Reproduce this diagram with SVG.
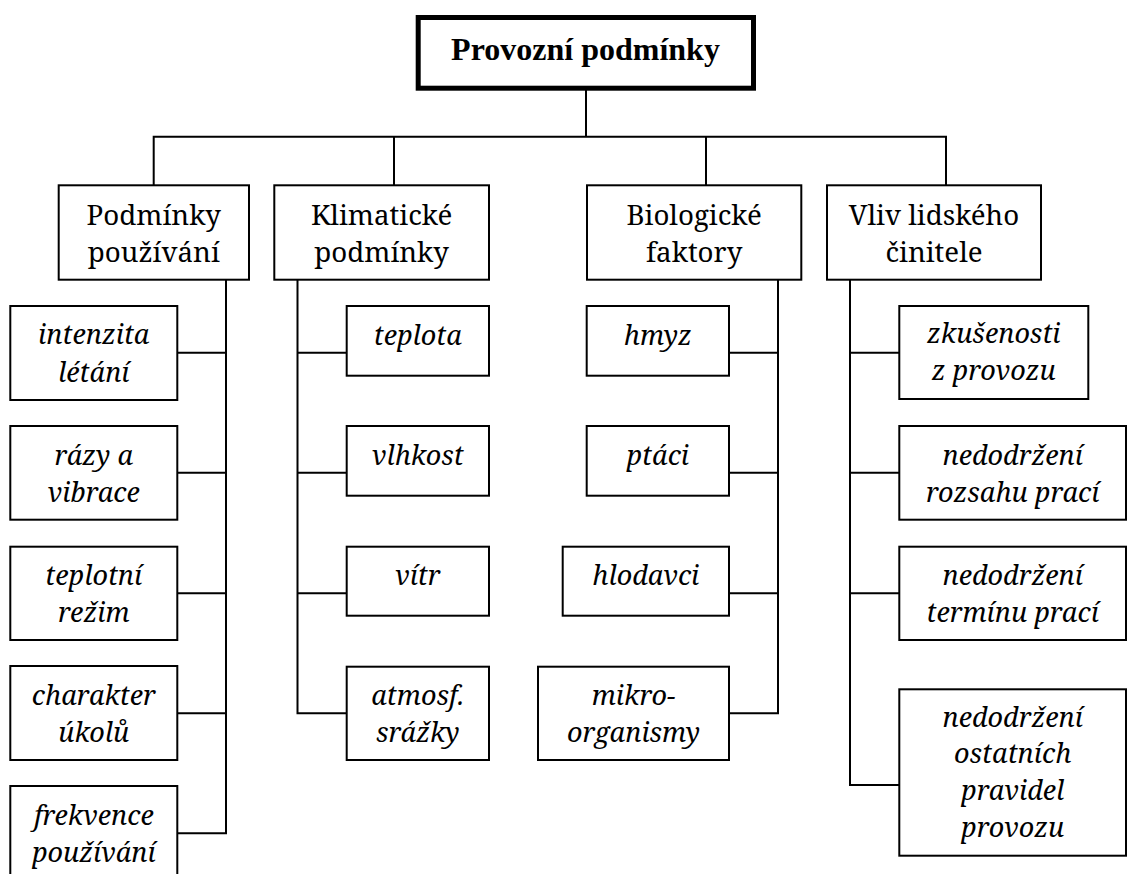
<svg xmlns="http://www.w3.org/2000/svg" width="1130" height="874" viewBox="0 0 1130 874">
  <style>
    .box { fill: #ffffff; stroke: #000000; stroke-width: 2; }
    .root { fill: #ffffff; stroke: #000000; stroke-width: 5; }
    .wire { fill: none; stroke: #000000; stroke-width: 2; stroke-linecap: square; }
    text { font-family: 'Noto Serif', 'Liberation Serif', serif; fill: #000000; text-anchor: middle; }
    .title { font-family: 'Liberation Serif', 'Noto Serif', serif; font-size: 32px; font-weight: bold; }
    .cat { font-size: 27.7px; }
    .item { font-size: 27px; font-style: italic; }
  </style>

  <rect width="1130" height="874" fill="#ffffff"/>

  <!-- connectors -->
  <g id="connectors" class="wire">
    <path d="M586 91 V136.7 M153.7 136.7 H946 M153.7 136.7 V184.3 M394 136.7 V184.3 M706 136.7 V184.3 M946 136.7 V184.3"/>
    <!-- column 1 -->
    <path d="M226 281 V833.3 M178.3 352.7 H226 M178.3 472.7 H226 M178.3 593.3 H226 M178.3 713.3 H226 M178.3 833.3 H226"/>
    <!-- column 2 -->
    <path d="M297.5 281 V713.3 M297.5 352.7 H345.7 M297.5 472.7 H345.7 M297.5 593.3 H345.7 M297.5 713.3 H345.7"/>
    <!-- column 3 -->
    <path d="M778 281 V713.3 M730 352.7 H778 M730 472.7 H778 M730 593.3 H778 M730 713.3 H778"/>
    <!-- column 4 -->
    <path d="M850 281 V785 M850 352.7 H898.3 M850 472.7 H898.3 M850 593.3 H898.3 M850 785 H898.3"/>
  </g>

  <!-- root -->
  <g id="n-root">
    <rect class="root" x="418.2" y="17.5" width="335.3" height="70.7"/>
    <text class="title" x="585.5" y="60">Provozní podmínky</text>
  </g>

  <!-- categories -->
  <g id="n-pouzivani">
    <rect class="box" x="58.7" y="185.3" width="190.3" height="94.4"/>
    <text class="cat" x="153.8" y="225">Podmínky</text>
    <text class="cat" x="153.8" y="261.7">používání</text>
  </g>
  <g id="n-klima">
    <rect class="box" x="274.3" y="185.3" width="214.7" height="94.4"/>
    <text class="cat" x="381.6" y="225">Klimatické</text>
    <text class="cat" x="381.6" y="261.7">podmínky</text>
  </g>
  <g id="n-bio">
    <rect class="box" x="587" y="185.3" width="214.3" height="94.4"/>
    <text class="cat" x="694.1" y="225">Biologické</text>
    <text class="cat" x="694.1" y="261.7">faktory</text>
  </g>
  <g id="n-lidsky">
    <rect class="box" x="827" y="185.3" width="214" height="94.4"/>
    <text class="cat" x="934" y="225">Vliv lidského</text>
    <text class="cat" x="934" y="261.7">činitele</text>
  </g>

  <!-- column 1 items -->
  <g id="n-intenzita">
    <rect class="box" x="10.3" y="306" width="167" height="94"/>
    <text class="item" x="93.8" y="344">intenzita</text>
    <text class="item" x="93.8" y="381.7">létání</text>
  </g>
  <g id="n-razy">
    <rect class="box" x="10.3" y="426" width="167" height="93.7"/>
    <text class="item" x="93.8" y="465">rázy a</text>
    <text class="item" x="93.8" y="501.7">vibrace</text>
  </g>
  <g id="n-teplotni">
    <rect class="box" x="10.3" y="546.7" width="167" height="93.3"/>
    <text class="item" x="93.8" y="585">teplotní</text>
    <text class="item" x="93.8" y="621.7">režim</text>
  </g>
  <g id="n-charakter">
    <rect class="box" x="10.3" y="666" width="167" height="94"/>
    <text class="item" x="93.8" y="705">charakter</text>
    <text class="item" x="93.8" y="741.7">úkolů</text>
  </g>
  <g id="n-frekvence">
    <rect class="box" x="10.3" y="786" width="167" height="94"/>
    <text class="item" x="93.8" y="825">frekvence</text>
    <text class="item" x="93.8" y="861.7">používání</text>
  </g>

  <!-- column 2 items -->
  <g id="n-teplota">
    <rect class="box" x="346.7" y="306" width="142.3" height="69.7"/>
    <text class="item" x="417.8" y="345">teplota</text>
  </g>
  <g id="n-vlhkost">
    <rect class="box" x="346.7" y="426" width="142.3" height="69.7"/>
    <text class="item" x="417.8" y="465">vlhkost</text>
  </g>
  <g id="n-vitr">
    <rect class="box" x="346.7" y="546.7" width="142.3" height="69"/>
    <text class="item" x="417.8" y="585">vítr</text>
  </g>
  <g id="n-srazky">
    <rect class="box" x="346.7" y="666.7" width="142.3" height="93.3"/>
    <text class="item" x="417.8" y="705">atmosf.</text>
    <text class="item" x="417.8" y="741.7">srážky</text>
  </g>

  <!-- column 3 items -->
  <g id="n-hmyz">
    <rect class="box" x="586.7" y="306" width="142.3" height="69.7"/>
    <text class="item" x="657.8" y="345">hmyz</text>
  </g>
  <g id="n-ptaci">
    <rect class="box" x="586.7" y="426" width="142.3" height="69.7"/>
    <text class="item" x="657.8" y="465">ptáci</text>
  </g>
  <g id="n-hlodavci">
    <rect class="box" x="562.7" y="546.7" width="166.3" height="69"/>
    <text class="item" x="645.8" y="585">hlodavci</text>
  </g>
  <g id="n-mikro">
    <rect class="box" x="538" y="666.7" width="191" height="93.3"/>
    <text class="item" x="633.5" y="705">mikro-</text>
    <text class="item" x="633.5" y="741.7">organismy</text>
  </g>

  <!-- column 4 items -->
  <g id="n-zkusenosti">
    <rect class="box" x="899.3" y="306" width="189" height="93"/>
    <text class="item" x="993.8" y="343.3">zkušenosti</text>
    <text class="item" x="993.8" y="380">z provozu</text>
  </g>
  <g id="n-rozsah">
    <rect class="box" x="899.3" y="426" width="226.7" height="93.7"/>
    <text class="item" x="1012.7" y="465">nedodržení</text>
    <text class="item" x="1012.7" y="501.7">rozsahu prací</text>
  </g>
  <g id="n-termin">
    <rect class="box" x="899.3" y="546.7" width="226.7" height="93.3"/>
    <text class="item" x="1012.7" y="585">nedodržení</text>
    <text class="item" x="1012.7" y="621.7">termínu prací</text>
  </g>
  <g id="n-pravidla">
    <rect class="box" x="899.3" y="689.3" width="226.7" height="166.4"/>
    <text class="item" x="1012.7" y="726.7">nedodržení</text>
    <text class="item" x="1012.7" y="763.3">ostatních</text>
    <text class="item" x="1012.7" y="800">pravidel</text>
    <text class="item" x="1012.7" y="836.7">provozu</text>
  </g>
</svg>
